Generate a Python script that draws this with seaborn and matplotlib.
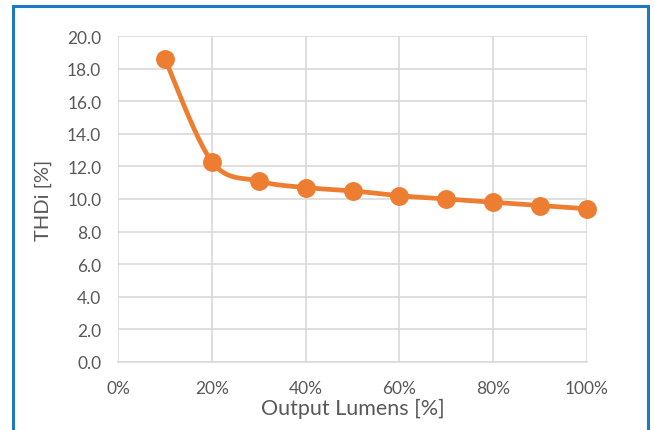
import numpy as np
import pandas as pd
import matplotlib
matplotlib.use("Agg")
import matplotlib.pyplot as plt
from matplotlib.patches import Rectangle
from matplotlib.ticker import FuncFormatter
import seaborn as sns

# Total harmonic distortion of input current vs. dimming level
output_lumens = [0.1, 0.2, 0.3, 0.4, 0.5, 0.6, 0.7, 0.8, 0.9, 1.0]
thdi = [18.6, 12.3, 11.1, 10.7, 10.5, 10.2, 10.0, 9.8, 9.6, 9.4]

x_ticks = [0.0, 0.2, 0.4, 0.6, 0.8, 1.0]
y_ticks = [0, 2, 4, 6, 8, 10, 12, 14, 16, 18, 20]

ORANGE = "#ED7D31"
GRID = "#D9D9D9"
TEXT = "#595959"
FRAME = "#1F78C4"

sns.set_theme(style="whitegrid")
plt.rcParams["font.family"] = ["Lato", "DejaVu Sans"]

df = pd.DataFrame({"lumens": output_lumens, "thdi": thdi})


def smooth_curve(xs, ys, steps=40):
    """Cardinal (Catmull-Rom) spline through the points, like a smoothed line."""
    xs = np.asarray(xs, float)
    ys = np.asarray(ys, float)
    px = np.concatenate([[xs[0]], xs, [xs[-1]]])
    py = np.concatenate([[ys[0]], ys, [ys[-1]]])
    cx, cy = [], []
    t = np.linspace(0, 1, steps)
    for i in range(1, len(px) - 2):
        p0x, p1x, p2x, p3x = px[i - 1], px[i], px[i + 1], px[i + 2]
        p0y, p1y, p2y, p3y = py[i - 1], py[i], py[i + 1], py[i + 2]
        # Bezier control points with tension 1/6
        b1x, b1y = p1x + (p2x - p0x) / 6, p1y + (p2y - p0y) / 6
        b2x, b2y = p2x - (p3x - p1x) / 6, p2y - (p3y - p1y) / 6
        bx = (1 - t) ** 3 * p1x + 3 * (1 - t) ** 2 * t * b1x + 3 * (1 - t) * t ** 2 * b2x + t ** 3 * p2x
        by = (1 - t) ** 3 * p1y + 3 * (1 - t) ** 2 * t * b1y + 3 * (1 - t) * t ** 2 * b2y + t ** 3 * p2y
        cx.append(bx)
        cy.append(by)
    return np.concatenate(cx), np.concatenate(cy)


fig = plt.figure(figsize=(6.55, 4.31), dpi=100)
ax = fig.add_axes([118 / 655, 68 / 431, 469 / 655, 326 / 431])

sx, sy = smooth_curve(df["lumens"], df["thdi"])
sns.lineplot(x=sx, y=sy, ax=ax, color=ORANGE, linewidth=3.4, sort=False, zorder=3)
sns.scatterplot(data=df, x="lumens", y="thdi", ax=ax, color=ORANGE, s=185,
                edgecolor=ORANGE, linewidth=0, zorder=4, clip_on=False)

ax.set_xlim(0, 1.0)
ax.set_ylim(0, 20)
ax.set_xticks(x_ticks)
ax.set_yticks(y_ticks)
ax.xaxis.set_major_formatter(FuncFormatter(lambda v, _: f"{v * 100:.0f}%"))
ax.yaxis.set_major_formatter(FuncFormatter(lambda v, _: f"{v:.1f}"))

ax.grid(True, color=GRID, linewidth=1.2)
for side in ["top", "right", "left"]:
    ax.spines[side].set_visible(False)
ax.spines["bottom"].set_visible(True)
ax.spines["bottom"].set_color(GRID)
ax.spines["bottom"].set_linewidth(1.2)
ax.tick_params(axis="both", colors=TEXT, labelsize=12.5, length=0)
ax.tick_params(axis="x", pad=13)
ax.tick_params(axis="y", pad=12)

ax.set_xlabel("Output Lumens [%]", color=TEXT, fontsize=15.5, labelpad=1)
ax.set_ylabel("THDi [%]", color=TEXT, fontsize=14.5, labelpad=11)

# Blue chart frame
fig.patches.append(Rectangle((13 / 655, -0.05), 635 / 655, 1.05 - 7 / 431,
                             transform=fig.transFigure, fill=False,
                             edgecolor=FRAME, linewidth=2.2, zorder=10))

fig.savefig("out.png", dpi=100, facecolor="white")
